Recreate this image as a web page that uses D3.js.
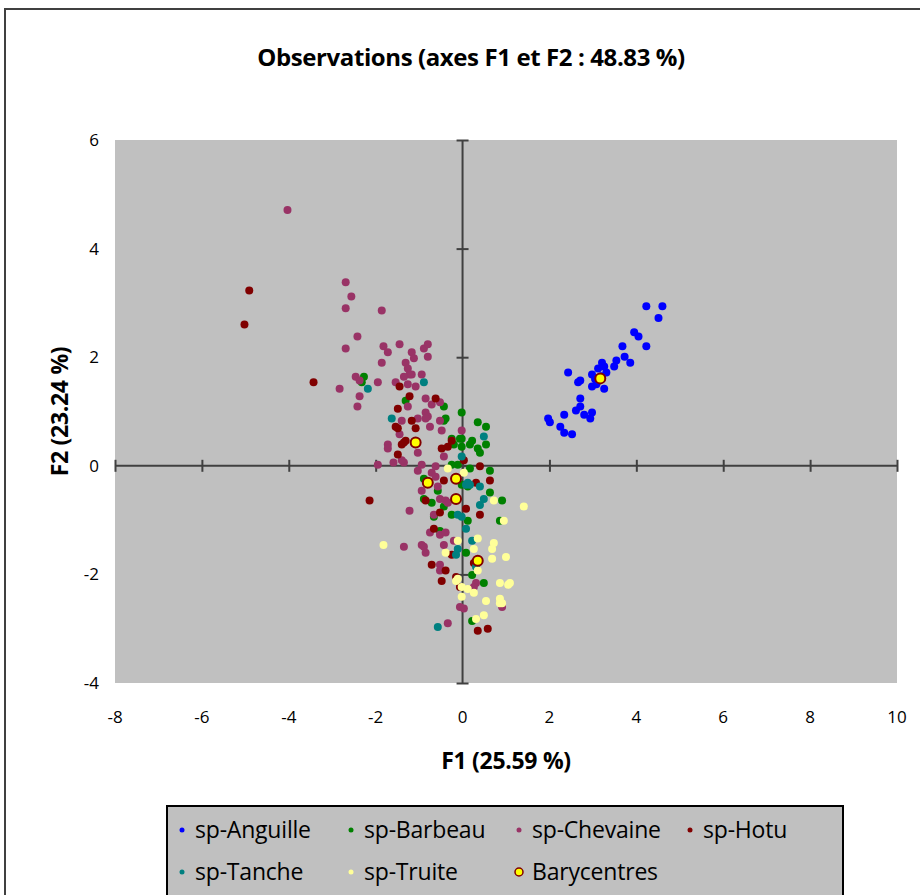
<!DOCTYPE html>
<html>
<head>
<meta charset="utf-8">
<script src="https://cdn.jsdelivr.net/npm/d3@7"></script>
<style>
  body { margin: 0; background: #fff; }
  text { font-family: "Open Sans", "Noto Sans", sans-serif; }
</style>
</head>
<body>
<svg id="chart" width="920" height="895"></svg>
<script>
// tick values
const xTicks = [-8, -6, -4, -2, 0, 2, 4, 6, 8, 10];
const yTicks = [-4, -2, 0, 2, 4, 6];

// observations, one array per species: [F1, F2]
const anguille = [
  [4.23, 2.94], [4.60, 2.94], [4.51, 2.72], [3.95, 2.46], [4.05, 2.38], [4.23, 2.20],
  [3.68, 2.20], [3.73, 2.01], [3.54, 1.94], [3.49, 1.83], [3.86, 1.90], [3.21, 1.90],
  [3.26, 1.83], [3.12, 1.79], [3.31, 1.72], [2.98, 1.68], [2.43, 1.72], [2.71, 1.57],
  [2.66, 1.54], [2.98, 1.46], [3.08, 1.50], [3.26, 1.42], [2.71, 1.24], [2.71, 1.09],
  [2.61, 1.02], [2.34, 0.94], [2.80, 0.94], [2.98, 0.98], [2.94, 0.87], [1.97, 0.87],
  [2.01, 0.80], [2.25, 0.72], [2.34, 0.61], [2.52, 0.58], [3.20, 1.65], [3.05, 1.60]
];
const barbeau = [
  [-2.27, 1.64], [-2.32, 1.54], [-1.31, 1.20], [-0.43, 1.09], [-0.39, 0.87], [-0.43, 0.83],
  [-0.02, 0.98], [0.35, 0.80], [0.54, 0.72], [-0.25, 0.50], [-0.02, 0.50], [-0.06, 0.50],
  [-0.20, 0.39], [-0.02, 0.35], [0.22, 0.46], [0.17, 0.39], [0.35, 0.32], [0.40, 0.24],
  [0.54, 0.39], [-0.25, 0.02], [-0.11, 0.02], [0.17, -0.05], [0.63, -0.09], [-0.89, -0.24],
  [-0.57, -0.46], [-0.02, -0.35], [0.12, -0.38], [0.63, -0.49], [0.91, -0.64], [-0.89, -0.61],
  [-0.71, -0.68], [-0.43, -0.75], [-0.25, -0.90], [0.12, -1.01], [0.86, -1.01], [-0.66, -0.94],
  [-0.52, -1.20], [0.08, -1.60], [0.22, -2.01], [0.49, -2.16], [0.22, -2.86]
];
const chevaine = [
  [-4.03, 4.71], [-2.69, 3.38], [-2.56, 3.12], [-2.69, 2.90], [-1.86, 2.86], [-2.42, 2.38],
  [-2.69, 2.16], [-1.82, 2.20], [-1.72, 2.09], [-1.45, 2.24], [-1.17, 2.09], [-0.89, 2.16],
  [-0.80, 2.24], [-0.80, 2.01], [-1.86, 1.90], [-1.31, 1.90], [-1.12, 1.98], [-1.26, 1.79],
  [-1.22, 1.68], [-1.35, 1.64], [-1.17, 1.68], [-0.94, 1.68], [-2.46, 1.64], [-2.37, 1.57],
  [-1.95, 1.54], [-2.83, 1.42], [-1.54, 1.54], [-1.26, 1.50], [-1.08, 1.46], [-2.37, 1.28],
  [-2.42, 1.09], [-0.85, 1.24], [-0.71, 1.13], [-0.52, 1.17], [-1.26, 1.09], [-1.40, 0.83],
  [-1.03, 0.87], [-0.85, 0.98], [-0.80, 0.91], [-0.85, 0.87], [-0.75, 0.72], [-0.52, 0.83],
  [-0.48, 0.65], [-0.02, 0.65], [-1.45, 0.58], [-1.72, 0.39], [-1.72, 0.32], [-1.03, 0.24],
  [-0.43, 0.17], [-1.95, 0.02], [-1.59, 0.06], [-1.35, 0.06], [-1.40, 0.10], [-0.94, 0.02],
  [-1.03, -0.09], [-0.62, -0.01], [-0.71, -0.13], [-0.62, -0.20], [-0.57, -0.38], [-0.94, -0.46],
  [-0.52, -0.61], [-0.39, -0.64], [-0.34, -0.68], [-1.22, -0.83], [-0.66, -0.90], [-0.75, -1.23],
  [-0.52, -1.27], [-0.39, -1.23], [-1.35, -1.49], [-0.94, -1.46], [-0.89, -1.49], [-0.85, -1.60],
  [-0.43, -1.46], [-0.20, -1.38], [-0.52, -1.82], [-0.52, -1.93], [0.31, -2.16], [0.26, -2.23],
  [-0.06, -2.60], [0.03, -2.63], [0.91, -2.60], [-0.34, -2.90]
];
const hotu = [
  [-4.91, 3.23], [-5.02, 2.60], [-3.43, 1.54], [-1.45, 1.46], [-1.22, 1.28], [-1.49, 1.05],
  [-0.62, 1.24], [-1.54, 0.72], [-1.49, 0.69], [-1.08, 0.69], [-1.17, 0.83], [-1.40, 0.39],
  [-1.31, 0.46], [-1.49, 0.21], [-0.25, 0.46], [-0.34, 0.35], [-0.48, 0.32], [-1.35, 0.43],
  [0.40, -0.01], [0.03, 0.10], [-0.43, -0.27], [0.31, -0.31], [0.63, -0.27], [-2.14, -0.64],
  [-0.85, -0.64], [0.08, -0.79], [-0.52, -0.86], [0.40, -0.90], [-0.66, -1.16], [-0.25, -1.64],
  [-0.71, -1.82], [-0.39, -1.93], [-0.48, -2.12], [-0.15, -2.05], [-0.06, -2.23], [0.26, -1.79],
  [0.35, -3.04], [0.58, -3.00]
];
const tanche = [
  [-2.18, 1.42], [-0.89, 1.54], [-1.63, 0.87], [0.49, 0.54], [-0.02, 0.17], [0.12, -0.31],
  [0.17, -0.35], [0.08, -0.35], [0.40, -0.38], [0.49, -0.61], [0.40, -0.72], [-0.11, -0.90],
  [-0.02, -0.94], [0.08, -1.16], [0.22, -1.38], [-0.11, -1.53], [-0.15, -1.64], [0.31, -1.86],
  [-0.57, -2.97]
];
const truite = [
  [-0.34, -0.05], [0.03, -0.13], [0.72, -0.64], [1.41, -0.75], [0.95, -1.01], [-1.82, -1.46],
  [-0.11, -1.38], [0.35, -1.34], [0.72, -1.42], [0.68, -1.53], [0.26, -1.53], [-0.39, -1.60],
  [0.68, -1.71], [1.00, -1.68], [0.35, -1.93], [-0.11, -2.08], [-0.15, -2.12], [-0.02, -2.23],
  [0.12, -2.27], [0.26, -2.34], [0.86, -2.16], [1.05, -2.19], [1.09, -2.16], [-0.02, -2.41],
  [0.54, -2.49], [0.86, -2.45], [0.86, -2.53], [0.91, -2.53], [0.49, -2.75], [0.31, -2.82]
];
const barycentres = [
  [-1.08, 0.43], [-0.80, -0.31], [-0.15, -0.24], [-0.15, -0.61], [0.35, -1.75], [3.17, 1.61]
];

const seriesNames = ["sp-Anguille", "sp-Barbeau", "sp-Chevaine", "sp-Hotu", "sp-Tanche", "sp-Truite", "Barycentres"];
const seriesColors = ["#0000FF", "#008000", "#993366", "#800000", "#008080", "#FFFF99", "#FFFF00"];

const series = [anguille, barbeau, chevaine, hotu, tanche, truite];

const svg = d3.select("#chart");
const margin = { left: 115, top: 140, right: 23, bottom: 212 };
const width = 920 - margin.left - margin.right;   // 782
const height = 895 - margin.top - margin.bottom;  // 543

// chart frame
svg.append("rect")
  .attr("x", 5).attr("y", 9)
  .attr("width", 930).attr("height", 900)
  .attr("fill", "#fff")
  .attr("stroke", "#404040")
  .attr("stroke-width", 2);

svg.append("text")
  .attr("x", 471).attr("y", 66)
  .attr("text-anchor", "middle")
  .attr("font-size", 24)
  .attr("font-weight", "bold")
  .attr("letter-spacing", -0.4)
  .text("Observations (axes F1 et F2 : 48.83 %)");

const x = d3.scaleLinear().domain([-8, 10]).range([0, width]);
const y = d3.scaleLinear().domain([-4, 6]).range([height, 0]);

const g = svg.append("g")
  .attr("transform", "translate(" + margin.left + "," + margin.top + ")");

g.append("rect")
  .attr("width", width).attr("height", height)
  .attr("fill", "#C0C0C0");

// axes crossing at 0
const xAxis = d3.axisBottom(x).tickValues(xTicks).tickSize(12).tickFormat("");
const yAxis = d3.axisLeft(y).tickValues(yTicks).tickSize(12).tickFormat("");

const gx = g.append("g")
  .attr("transform", "translate(0," + (y(0) - 6) + ")")
  .call(xAxis);
gx.select(".domain").attr("transform", "translate(0,6)").attr("d", "M0,0H" + width);

const gy = g.append("g")
  .attr("transform", "translate(" + (x(0) + 6) + ",0)")
  .call(yAxis);
gy.select(".domain").attr("transform", "translate(-6,0)").attr("d", "M0,0V" + height);

g.selectAll(".tick line, .domain")
  .attr("stroke", "#404040")
  .attr("stroke-width", 2);

// tick labels outside plot area
g.append("g").selectAll("text")
  .data(xTicks)
  .enter().append("text")
  .attr("x", function(d) { return x(d); })
  .attr("y", height + 40)
  .attr("text-anchor", "middle")
  .attr("font-size", 17)
  .text(function(d) { return d; });

g.append("g").selectAll("text")
  .data(yTicks)
  .enter().append("text")
  .attr("x", -16)
  .attr("y", function(d) { return y(d) + 6; })
  .attr("text-anchor", "end")
  .attr("font-size", 17)
  .text(function(d) { return d; });

// axis titles
svg.append("text")
  .attr("x", margin.left + width / 2).attr("y", 769)
  .attr("text-anchor", "middle")
  .attr("font-size", 23).attr("font-weight", "bold")
  .attr("letter-spacing", -0.3)
  .text("F1 (25.59 %)");

svg.append("text")
  .attr("transform", "translate(68," + (margin.top + height / 2) + ") rotate(-90)")
  .attr("text-anchor", "middle")
  .attr("font-size", 23).attr("font-weight", "bold")
  .attr("letter-spacing", -0.3)
  .text("F2 (23.24 %)");

// points
series.forEach(function(data, i) {
  g.append("g").selectAll("circle")
    .data(data)
    .enter().append("circle")
    .attr("cx", function(d) { return x(d[0]); })
    .attr("cy", function(d) { return y(d[1]); })
    .attr("r", 4)
    .attr("fill", seriesColors[i]);
});

g.append("g").selectAll("circle")
  .data(barycentres)
  .enter().append("circle")
  .attr("cx", function(d) { return x(d[0]); })
  .attr("cy", function(d) { return y(d[1]); })
  .attr("r", 5)
  .attr("fill", "#FFFF00")
  .attr("stroke", "#800000")
  .attr("stroke-width", 2);

// legend
const legend = svg.append("g");
legend.append("rect")
  .attr("x", 167).attr("y", 806)
  .attr("width", 676).attr("height", 100)
  .attr("fill", "#C0C0C0")
  .attr("stroke", "#000")
  .attr("stroke-width", 2);

const colX = [182, 351, 519, 690];
const rowY = [830, 872];
seriesNames.forEach(function(name, i) {
  const lx = colX[i % 4], ly = rowY[Math.floor(i / 4)];
  const isBary = i === 6;
  legend.append("circle")
    .attr("cx", lx).attr("cy", ly)
    .attr("r", isBary ? 4 : 2.5)
    .attr("fill", seriesColors[i])
    .attr("stroke", isBary ? "#800000" : "none")
    .attr("stroke-width", isBary ? 1.5 : 0);
  legend.append("text")
    .attr("x", lx + 13).attr("y", ly + 8)
    .attr("font-size", 23)
    .attr("letter-spacing", -0.2)
    .text(name);
});
</script>
</body>
</html>
